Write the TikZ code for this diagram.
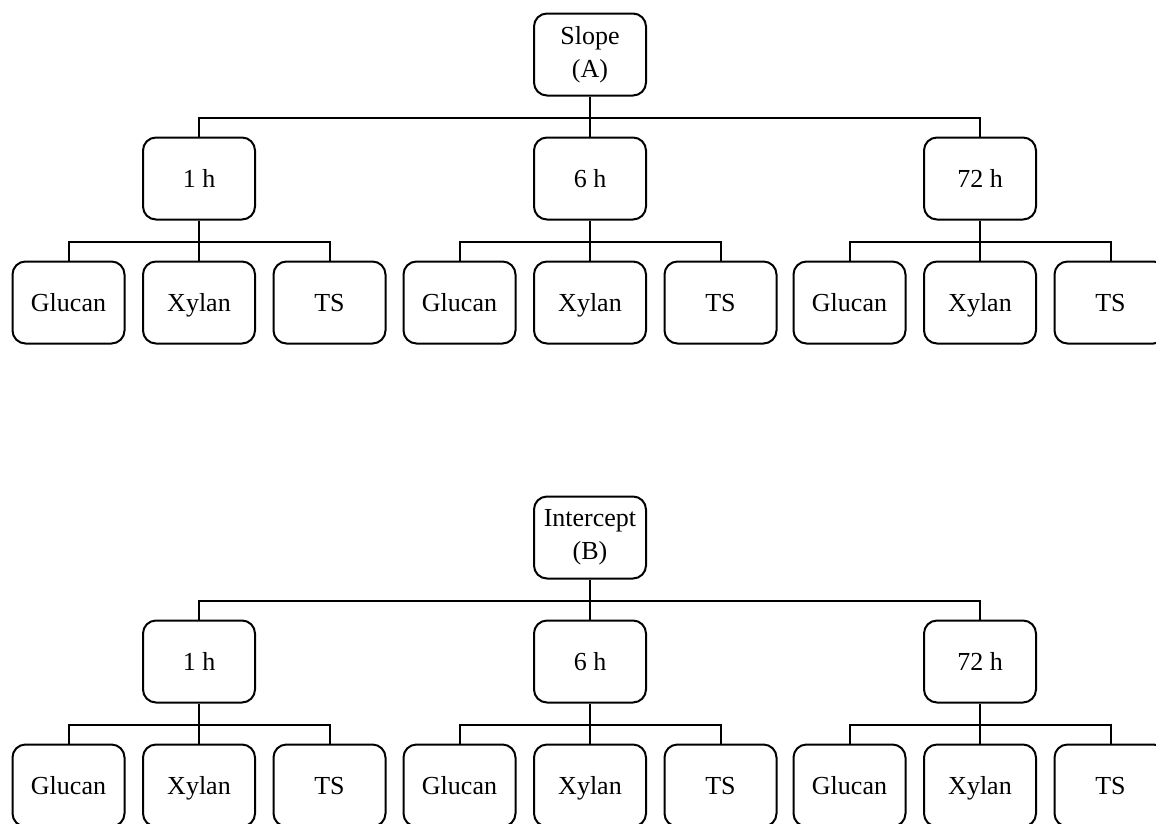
\documentclass[tikz,border=0pt]{standalone}
\usepackage{fontspec}
\setmainfont{Liberation Serif}
\begin{document}
\begin{tikzpicture}[x=1pt,y=1pt,
  box/.style={draw,line width=2pt,rounded corners=13pt,minimum width=112pt,
    minimum height=82pt,inner sep=0pt,align=center,
    font=\fontsize{26}{33}\selectfont},
  leaf/.style={box,text height=20pt,text depth=3pt},
  link/.style={line width=2pt}]
\useasboundingbox (0,0) rectangle (1156,-823);
\clip (0,0) rectangle (1156,-823);
% one tree: root, three times, three measures under each
\foreach \pre/\label/\dy in {a/{Slope\\(A)}/0, b/{Intercept\\(B)}/483}{
  \node[box] (\pre root) at (590,-54.5-\dy) {\label};
  \foreach \t/\tx/\mx in {1/{1 h}/199, 2/{6 h}/590, 3/{72 h}/980}{
    \node[leaf] (\pre m\t) at (\mx,-178.5-\dy) {\tx};
    \draw[link] (\pre root.south) -- +(0,-21) -| (\pre m\t.north);
    \foreach \k/\lx/\off in {1/Glucan/-130.5, 2/Xylan/0, 3/TS/130.5}{
      \node[leaf] (\pre l\t\k) at (\mx+\off,-302.5-\dy) {\lx};
      \draw[link] (\pre m\t.south) -- +(0,-21) -| (\pre l\t\k.north);
    }
  }
}
\end{tikzpicture}
\end{document}
